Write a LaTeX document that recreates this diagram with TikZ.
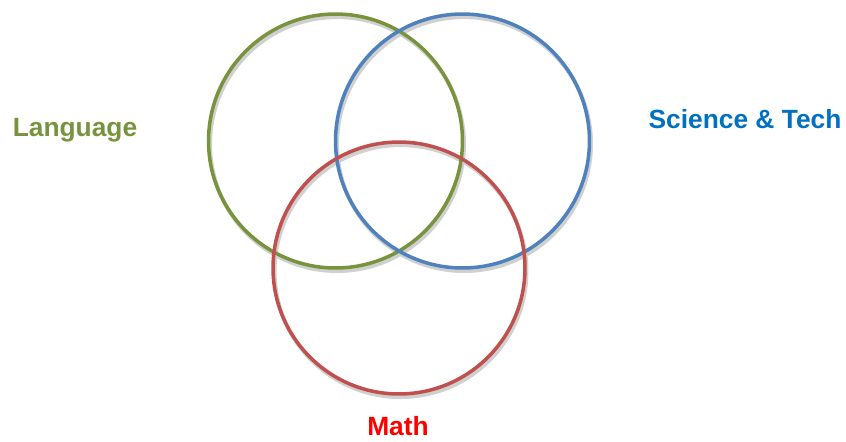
\documentclass[tikz,border=0pt]{standalone}
\usepackage{fontspec}
\setmainfont{Liberation Sans}
\definecolor{langgreen}{HTML}{77933C}
\definecolor{scigreen}{HTML}{4F81BD}
\definecolor{mathred}{HTML}{C0504D}
\definecolor{scitext}{HTML}{0070C0}
\definecolor{shade}{HTML}{D0D0D0}
\tikzset{
  ring/.style={line width=2pt},
  ringshadow/.style={line width=2.3pt,draw=shade},
  subject/.style={font=\fontsize{15}{18}\selectfont\bfseries,inner sep=0pt}
}
\begin{document}
\begin{tikzpicture}[x=0.02cm,y=-0.02cm]
\useasboundingbox (0,0) rectangle (846,441);

% shadows
\draw[ringshadow] (337,144) circle (2.54cm);
\draw[ringshadow] (464,144) circle (2.54cm);
\draw[ringshadow] (400.5,271) circle (2.52cm);

% circles
\draw[ring,langgreen] (335.5,141) circle (2.54cm);
\draw[ring,scigreen] (462.5,141) circle (2.54cm);
\draw[ring,mathred] (399,268) circle (2.52cm);

\node[subject,text=langgreen] (language) at (75,130.5) {Language};
\node[subject,text=scitext] (science) at (745,119) {Science \& Tech};
\node[subject,text=red] (math) at (398,426.5) {Math};
\end{tikzpicture}
\end{document}
